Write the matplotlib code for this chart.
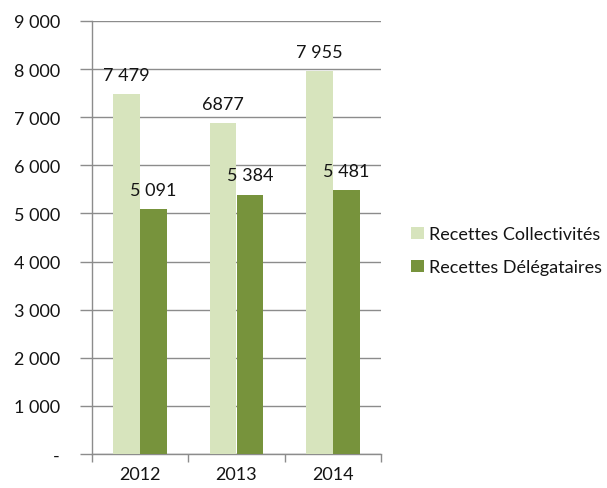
import matplotlib.pyplot as plt
import numpy as np
from matplotlib.ticker import FuncFormatter

years = ['2012', '2013', '2014']
collectivites = [7479, 6877, 7955]
delegataires = [5091, 5384, 5481]
labels_coll = ['7 479', '6877', '7 955']
labels_deleg = ['5 091', '5 384', '5 481']

light = '#D7E4BD'
dark = '#77933C'
grey = '#8C8C8C'
txt = '#141414'
fs = 13

plt.rcParams['font.family'] = ['Lato', 'DejaVu Sans']

fig = plt.figure(figsize=(6.07, 4.89), dpi=100)
ax = fig.add_axes([92 / 607, 34 / 489, 289 / 607, 433 / 489])

x = np.arange(len(years))
w = 0.28
ax.bar(x - w / 2, collectivites, w, color=light, label='Recettes Collectivités', zorder=3)
ax.bar(x + w / 2, delegataires, w, color=dark, label='Recettes Délégataires', zorder=3)

for xi, v, t in zip(x, collectivites, labels_coll):
    ax.text(xi - w / 2, v + 240, t, ha='center', va='bottom', fontsize=fs, color=txt)
for xi, v, t in zip(x, delegataires, labels_deleg):
    ax.text(xi + w / 2, v + 240, t, ha='center', va='bottom', fontsize=fs, color=txt)

ax.set_xlim(-0.5, 2.5)
ax.set_ylim(0, 9000)
ax.set_yticks(np.arange(0, 9001, 1000))
ax.yaxis.set_major_formatter(FuncFormatter(
    lambda v, p: '-' if v == 0 else f'{int(v):,}'.replace(',', ' ')))

# category boundaries carry the tick marks, years sit between them
ax.set_xticks([-0.5, 0.5, 1.5, 2.5])
ax.set_xticklabels([])
ax.set_xticks(x, minor=True)
ax.set_xticklabels(years, minor=True)
ax.tick_params(axis='x', which='major', length=6, width=1, color=grey, direction='out')
ax.tick_params(axis='x', which='minor', length=0, pad=9, labelsize=fs, labelcolor=txt)
ax.tick_params(axis='y', length=9, width=1, color=grey, direction='out', pad=14,
               labelsize=fs, labelcolor=txt)

ax.grid(axis='y', color=grey, linewidth=1, zorder=0)
for s in ['top', 'right']:
    ax.spines[s].set_visible(False)
for s in ['left', 'bottom']:
    ax.spines[s].set_color(grey)
    ax.spines[s].set_linewidth(1)

leg = ax.legend(loc='center left', bbox_to_anchor=(1.105, 0.469), frameon=False,
                fontsize=fs, handlelength=0.7, handleheight=0.7, handletextpad=0.3,
                labelspacing=0.95, borderaxespad=0, borderpad=0)
for t in leg.get_texts():
    t.set_color(txt)

fig.savefig('out.png', dpi=100)
